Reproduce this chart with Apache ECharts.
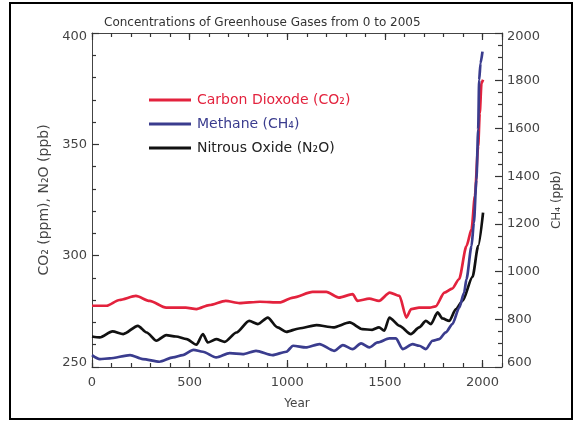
<!DOCTYPE html>
<html>
<head>
<meta charset="utf-8">
<script src="https://cdn.jsdelivr.net/npm/echarts@6/dist/echarts.min.js"></script>
<style>
html,body{margin:0;padding:0;background:#fff;}
#chart{width:576px;height:421px;}
</style>
</head>
<body>
<div id="chart"></div>
<script>
// Data
const co2Years = [0, 75, 140, 225, 295, 380, 480, 535, 600, 685, 755, 860, 960, 1030, 1130, 1200, 1265, 1335, 1360, 1420, 1470, 1525, 1575, 1610, 1635, 1675, 1730, 1760, 1805, 1845, 1880, 1918, 1944, 1961, 1978, 1986, 1995, 2003];
const co2Values = [277.5, 277.5, 280.1, 281.9, 279.7, 276.7, 276.7, 276, 277.8, 279.7, 278.7, 279.3, 279, 281.2, 283.7, 283.7, 281.2, 282.7, 279.7, 280.7, 279.7, 283.4, 281.9, 272.2, 276, 276.7, 276.7, 277.2, 283.4, 285.2, 289.4, 304.3, 311.8, 326.7, 349.1, 364, 377.5, 379];

const n2oYears = [0, 40, 105, 160, 235, 280, 330, 380, 430, 485, 535, 568, 593, 636, 680, 740, 805, 850, 900, 950, 995, 1060, 1150, 1235, 1320, 1385, 1435, 1470, 1497, 1523, 1575, 1633, 1676, 1710, 1736, 1770, 1795, 1830, 1864, 1898, 1949, 1978, 2003];
const n2oValues = [263.7, 263.3, 266, 264.8, 268.5, 265.5, 261.8, 264.3, 263.7, 262.5, 260, 264.8, 261, 262.5, 261.3, 265.5, 270.7, 269.3, 272.2, 267.8, 265.8, 267.3, 268.8, 267.8, 270, 267, 266.7, 267.8, 266.3, 272.2, 268.5, 264.8, 267.8, 270.7, 269.3, 274.5, 271.8, 270.7, 276, 279.7, 290.5, 304.3, 319.3];

const ch4Years = [0, 40, 90, 195, 260, 345, 415, 465, 520, 568, 636, 705, 772, 840, 925, 995, 1030, 1095, 1165, 1240, 1285, 1335, 1378, 1420, 1463, 1523, 1557, 1591, 1642, 1676, 1710, 1744, 1778, 1812, 1846, 1881, 1906, 1918, 1944, 1956, 1969, 1978, 1983, 1990, 2000];
const ch4Values = [650, 633, 636, 650, 633, 622, 640, 650, 672, 664, 640, 658, 654, 668, 650, 664, 689, 682, 696, 668, 692, 675, 699, 682, 703, 720, 720, 675, 696, 689, 675, 710, 717, 745, 780, 849, 912, 968, 1107, 1205, 1386, 1595, 1803, 1873, 1922];

const seriesNames = ['Carbon Dioxode (CO₂)', 'Methane (CH₄)', 'Nitrous Oxide (N₂O)'];
const seriesColors = ['#e3223d', '#3a3c8e', '#111111'];
const titleText = 'Concentrations of Greenhouse Gases from 0 to 2005';
const leftAxisName = 'CO₂ (ppm), N₂O (ppb)';
const rightAxisName = 'CH₄ (ppb)';
const xAxisName = 'Year';

function pairs(xs, ys) { return xs.map((x, i) => [x, ys[i]]); }

const FONT = 'DejaVu Sans';
const AX = '#444';
const TK = '#333';
const LBL = '#444';
const plain = v => String(v);

const chart = echarts.init(document.getElementById('chart'), null, {renderer: 'canvas'});

function xAx(pos, interval, len, labels, line) {
  return {
    type: 'value', position: pos, min: 0, max: 2100, interval: interval,
    axisLine: {show: line, onZero: false, lineStyle: {color: AX, width: 1}},
    axisTick: {show: true, inside: true, length: len, lineStyle: {color: TK, width: 1.2}},
    axisLabel: {show: labels, showMaxLabel: false, formatter: plain, color: LBL, fontFamily: FONT, fontSize: 13, margin: 9},
    splitLine: {show: false}
  };
}

function yAx(pos, min, max, interval, len, labels, line, minorSplit) {
  return {
    type: 'value', position: pos, min: min, max: max, interval: interval,
    axisLine: {show: line, onZero: false, lineStyle: {color: AX, width: 1}},
    axisTick: {show: true, inside: true, length: len, lineStyle: {color: TK, width: 1.2}},
    minorTick: {show: !!minorSplit, splitNumber: minorSplit || 5, length: 4, lineStyle: {color: TK, width: 1.2}},
    axisLabel: {
      show: labels, formatter: plain, color: LBL, fontFamily: FONT, fontSize: 13, margin: 5,
      lineHeight: 8, verticalAlignMaxLabel: 'top', verticalAlignMinLabel: 'bottom'
    },
    splitLine: {show: false}
  };
}

chart.setOption({
  backgroundColor: '#fff',
  animation: false,
  title: {
    text: titleText, left: 99, top: 12,
    textStyle: {fontFamily: FONT, fontSize: 12, fontWeight: 'normal', color: '#333'}
  },
  legend: {
    orient: 'vertical', left: 144, top: 88, itemWidth: 42, itemHeight: 3, itemGap: 10,
    icon: 'rect',
    data: [
      {name: seriesNames[0], textStyle: {color: seriesColors[0]}},
      {name: seriesNames[1], textStyle: {color: seriesColors[1]}},
      {name: seriesNames[2], textStyle: {color: '#222'}}
    ],
    textStyle: {fontFamily: FONT, fontSize: 14, padding: [0, 0, 0, 1]}
  },
  grid: {left: 92, right: 74, top: 33, bottom: 54},
  xAxis: [
    Object.assign(xAx('bottom', 500, 7, true, true), {
      name: xAxisName, nameLocation: 'middle', nameGap: 31,
      nameTextStyle: {fontFamily: FONT, fontSize: 12, color: LBL}
    }),
    xAx('bottom', 100, 4, false, false),
    xAx('top', 500, 7, false, true),
    xAx('top', 100, 4, false, false)
  ],
  yAxis: [
    Object.assign(yAx('left', 250, 400, 50, 7, true, true, 5), {
      name: leftAxisName, nameLocation: 'middle', nameGap: 40, nameRotate: 90,
      nameTextStyle: {fontFamily: FONT, fontSize: 14, color: LBL}
    }),
    Object.assign(yAx('right', 600, 2000, 200, 7, true, true, 4), {
      name: rightAxisName, nameLocation: 'middle', nameGap: 6, nameRotate: 90,
      nameTextStyle: {fontFamily: FONT, fontSize: 12, color: LBL}
    })
  ],
  series: [
    {
      name: seriesNames[2], type: 'line', xAxisIndex: 0, yAxisIndex: 0,
      data: pairs(n2oYears, n2oValues), showSymbol: false, smooth: 0.25, smoothMonotone: 'x',
      lineStyle: {color: seriesColors[2], width: 2.7}, itemStyle: {color: seriesColors[2]}
    },
    {
      name: seriesNames[0], type: 'line', xAxisIndex: 0, yAxisIndex: 0,
      data: pairs(co2Years, co2Values), showSymbol: false, smooth: 0.25, smoothMonotone: 'x',
      lineStyle: {color: seriesColors[0], width: 2.7}, itemStyle: {color: seriesColors[0]}
    },
    {
      name: seriesNames[1], type: 'line', xAxisIndex: 0, yAxisIndex: 1,
      data: pairs(ch4Years, ch4Values), showSymbol: false, smooth: 0.25, smoothMonotone: 'x',
      lineStyle: {color: seriesColors[1], width: 2.7}, itemStyle: {color: seriesColors[1]}
    }
  ],
  graphic: [
    {type: 'rect', shape: {x: 10, y: 3, width: 562, height: 416}, style: {fill: null, stroke: '#000', lineWidth: 2}, silent: true, z: 100}
  ]
});
</script>
</body>
</html>
